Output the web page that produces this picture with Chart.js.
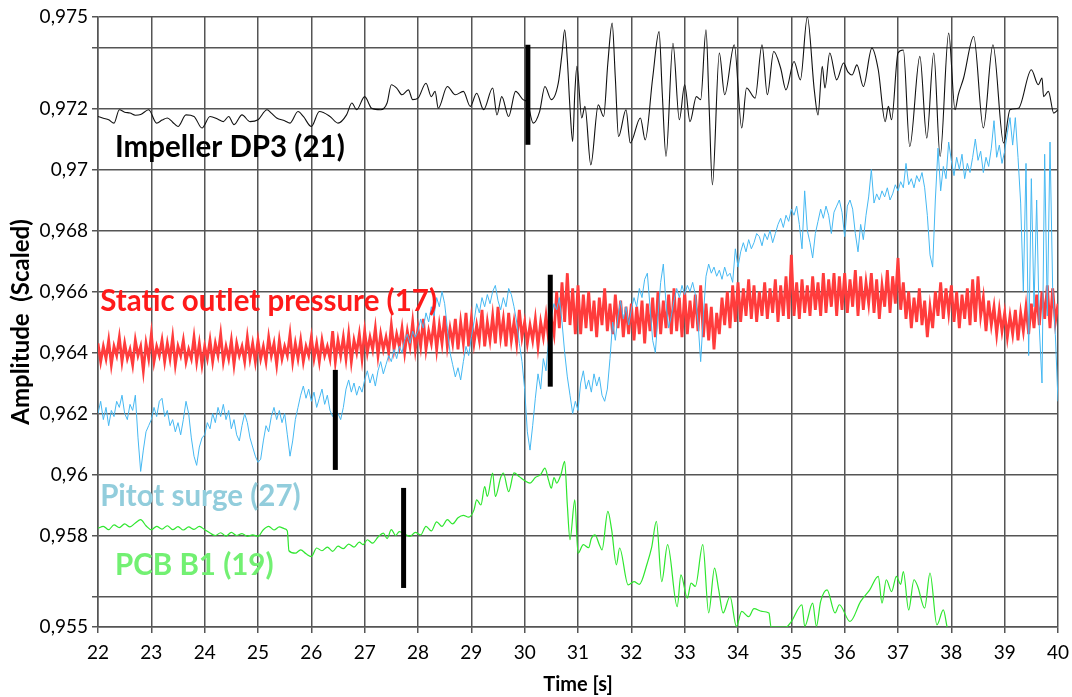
<!DOCTYPE html>
<html>
<head>
<meta charset="utf-8">
<script src="https://cdn.jsdelivr.net/npm/chart.js@4/dist/chart.umd.min.js"></script>
<style>
  html, body { margin: 0; padding: 0; background: #ffffff; }
  canvas { display: block; }
</style>
</head>
<body>
<canvas id="chart" width="1072" height="697"></canvas>
<script>
// Axis ticks
const xTicks = [22,23,24,25,26,27,28,29,30,31,32,33,34,35,36,37,38,39,40];
const yTickValues = [0.955,0.956,0.958,0.960,0.962,0.964,0.966,0.968,0.970,0.972,0.974,0.975];
const yTickLabels = ['0,955','','0,958','0,96','0,962','0,964','0,966','0,968','0,97','0,972','','0,975'];

// Impeller DP3 (21)
const impellerT = [
  22.0,22.1,22.2,22.3,22.4,22.5,22.6,22.7,22.8,22.95,
  23.1,23.2,23.3,23.4,23.5,23.65,23.8,23.95,24.1,24.25,
  24.35,24.45,24.55,24.7,24.85,25.0,25.17,25.25,25.35,25.5,
  25.6,25.75,25.85,26.0,26.15,26.35,26.5,26.66,26.76,26.85,
  27.0,27.13,27.3,27.42,27.5,27.6,27.7,27.82,27.9,28.0,
  28.15,28.25,28.32,28.38,28.55,28.7,28.85,28.98,29.1,29.23,
  29.4,29.48,29.57,29.7,29.83,29.97,30.05,30.16,30.28,30.38,
  30.5,30.63,30.7,30.75,30.8,30.85,30.9,30.94,30.98,31.07,
  31.13,31.24,31.38,31.48,31.56,31.64,31.7,31.76,31.9,31.98,
  32.17,32.26,32.4,32.52,32.58,32.65,32.78,32.9,33.0,33.1,
  33.22,33.3,33.4,33.46,33.52,33.65,33.75,33.93,34.07,34.16,
  34.32,34.45,34.55,34.67,34.8,34.9,35.05,35.17,35.3,35.43,
  35.5,35.58,35.63,35.72,35.85,35.98,36.06,36.14,36.23,36.35,
  36.51,36.63,36.76,36.82,36.88,37.0,37.1,37.22,37.41,37.54,
  37.67,37.79,37.95,38.07,38.13,38.23,38.42,38.6,38.78,38.98,
  39.1,39.26,39.5,39.63,39.7,39.73,39.82,39.92,40.0
];
const impellerV = [
  0.97174,0.97168,0.97163,0.97152,0.97196,0.97188,0.97185,0.97178,0.97180,0.97196,
  0.97152,0.97162,0.97169,0.97155,0.97141,0.97179,0.97174,0.97136,0.97174,0.97165,
  0.97157,0.97174,0.97147,0.97179,0.97157,0.97163,0.97196,0.97185,0.97169,0.97160,
  0.97152,0.97190,0.97174,0.97141,0.97190,0.97174,0.97152,0.97179,0.97218,0.97196,
  0.97239,0.97201,0.97196,0.97218,0.97278,0.97267,0.97245,0.97261,0.97229,0.97234,
  0.97283,0.97239,0.97256,0.97201,0.97272,0.97245,0.97256,0.97207,0.97250,0.97196,
  0.97267,0.97179,0.97239,0.97174,0.97256,0.97229,0.97220,0.97152,0.97190,0.97272,
  0.97229,0.97283,0.97380,0.97458,0.97360,0.97200,0.97092,0.97250,0.97338,0.97169,
  0.97207,0.97015,0.97212,0.97174,0.97350,0.97480,0.97300,0.97108,0.97196,0.97087,
  0.97169,0.97097,0.97300,0.97452,0.97250,0.97043,0.97414,0.97163,0.97278,0.97157,
  0.97239,0.97229,0.97458,0.97200,0.96950,0.97382,0.97245,0.97409,0.97136,0.97267,
  0.97234,0.97409,0.97245,0.97387,0.97332,0.97261,0.97354,0.97294,0.97500,0.97261,
  0.97179,0.97338,0.97267,0.97382,0.97294,0.97349,0.97320,0.97310,0.97343,0.97272,
  0.97398,0.97327,0.97157,0.97207,0.97163,0.97382,0.97392,0.97075,0.97371,0.97103,
  0.97382,0.97043,0.97447,0.97196,0.97245,0.97300,0.97436,0.97136,0.97409,0.97087,
  0.97196,0.97201,0.97327,0.97278,0.97300,0.97239,0.97256,0.97185,0.97196
];

// Static outlet pressure (17), sampled every 0.05 s from 22 s
const staticStart = 22, staticStep = 0.05;
const staticV = [
  0.9643,0.9637,0.9642,0.9638,0.9644,0.9636,0.9642,0.9639,0.9645,0.9637,0.9643,0.9638,0.9641,0.9636,0.9644,0.9639,0.9642,0.9634,0.9643,0.9638,
  0.9646,0.9637,0.9642,0.9639,0.9644,0.9637,0.9643,0.9638,0.9645,0.9636,0.9642,0.9639,0.9644,0.9637,0.9641,0.9638,0.9645,0.9637,0.9643,0.9636,
  0.9642,0.9638,0.9644,0.9637,0.9643,0.9639,0.9646,0.9637,0.9642,0.9638,0.9644,0.9636,0.9643,0.9639,0.9642,0.9637,0.9645,0.9638,0.9643,0.9637,
  0.9644,0.9638,0.9642,0.9637,0.9645,0.9639,0.9643,0.9636,0.9644,0.9638,0.9642,0.9639,0.9646,0.9637,0.9643,0.9638,0.9644,0.9637,0.9642,0.9639,
  0.9645,0.9638,0.9643,0.9637,0.9644,0.9639,0.9642,0.9638,0.9647,0.9637,0.9644,0.9639,0.9645,0.9638,0.9646,0.9637,0.9644,0.9640,0.9646,0.9638,
  0.9647,0.9640,0.9645,0.9641,0.9648,0.9639,0.9646,0.9641,0.9645,0.9640,0.9649,0.9641,0.9646,0.9642,0.9648,0.9640,0.9647,0.9642,0.9650,0.9641,
  0.9648,0.9642,0.9651,0.9641,0.9647,0.9643,0.9650,0.9641,0.9649,0.9643,0.9652,0.9642,0.9648,0.9643,0.9651,0.9641,0.9650,0.9643,0.9653,0.9642,
  0.9651,0.9643,0.9649,0.9644,0.9654,0.9642,0.9650,0.9644,0.9652,0.9643,0.9655,0.9645,0.9651,0.9642,0.9653,0.9644,0.9650,0.9643,0.9654,0.9645,
  0.9650,0.9643,0.9649,0.9644,0.9651,0.9642,0.9650,0.9645,0.9652,0.9644,0.9651,0.9646,0.9660,0.9648,0.9663,0.9650,0.9666,0.9649,0.9661,0.9646,
  0.9662,0.9646,0.9659,0.9648,0.9660,0.9647,0.9657,0.9645,0.9658,0.9649,0.9661,0.9647,0.9656,0.9646,0.9659,0.9648,0.9657,0.9645,0.9655,0.9646,
  0.9656,0.9644,0.9655,0.9646,0.9657,0.9643,0.9656,0.9647,0.9658,0.9645,0.9660,0.9646,0.9657,0.9648,0.9659,0.9646,0.9661,0.9647,0.9658,0.9645,
  0.9660,0.9646,0.9657,0.9648,0.9659,0.9647,0.9662,0.9645,0.9656,0.9644,0.9655,0.9641,0.9653,0.9646,0.9658,0.9649,0.9660,0.9648,0.9662,0.9650,
  0.9663,0.9650,0.9661,0.9652,0.9664,0.9651,0.9662,0.9650,0.9660,0.9652,0.9663,0.9651,0.9661,0.9653,0.9664,0.9650,0.9662,0.9652,0.9665,0.9651,
  0.9672,0.9652,0.9663,0.9651,0.9664,0.9653,0.9662,0.9652,0.9665,0.9654,0.9663,0.9652,0.9666,0.9653,0.9664,0.9655,0.9666,0.9652,0.9665,0.9654,
  0.9666,0.9653,0.9664,0.9655,0.9667,0.9652,0.9665,0.9654,0.9663,0.9656,0.9666,0.9653,0.9664,0.9651,0.9662,0.9655,0.9667,0.9653,0.9665,0.9656,
  0.9671,0.9654,0.9663,0.9651,0.9660,0.9648,0.9658,0.9650,0.9661,0.9649,0.9657,0.9645,0.9655,0.9648,0.9660,0.9652,0.9663,0.9651,0.9661,0.9653,
  0.9662,0.9650,0.9660,0.9648,0.9659,0.9651,0.9661,0.9649,0.9664,0.9650,0.9665,0.9652,0.9658,0.9647,0.9657,0.9649,0.9655,0.9646,0.9654,0.9647,
  0.9653,0.9645,0.9652,0.9646,0.9654,0.9644,0.9653,0.9647,0.9655,0.9646,0.9656,0.9648,0.9659,0.9649,0.9660,0.9651,0.9662,0.9648,0.9661,0.9650,
  0.9656
];

// Pitot surge (27), sampled every 0.05 s from 22 s
const pitotStart = 22, pitotStep = 0.05;
const pitotV = [
  0.9620,0.9624,0.9618,0.9622,0.9616,0.9621,0.9619,0.9624,0.9622,0.9626,0.9620,0.9618,0.9623,0.9621,0.9626,0.9612,0.9601,0.9608,0.9614,0.9616,
  0.9618,0.9622,0.9619,0.9624,0.9625,0.9619,0.9621,0.9616,0.9618,0.9614,0.9617,0.9613,0.9618,0.9624,0.9620,0.9612,0.9606,0.9603,0.9609,0.9612,
  0.9613,0.9617,0.9615,0.9620,0.9617,0.9622,0.9619,0.9623,0.9618,0.9621,0.9615,0.9618,0.9613,0.9611,0.9616,0.9620,0.9617,0.9612,0.9609,0.9606,
  0.9604,0.9605,0.9611,0.9616,0.9614,0.9619,0.9622,0.9618,0.9621,0.9617,0.9620,0.9613,0.9606,0.9611,0.9618,0.9622,0.9626,0.9629,0.9625,0.9628,
  0.9624,0.9627,0.9622,0.9625,0.9628,0.9623,0.9626,0.9621,0.9619,0.9622,0.9620,0.9618,0.9622,0.9628,0.9631,0.9627,0.9630,0.9626,0.9629,0.9627,
  0.9631,0.9634,0.9630,0.9633,0.9629,0.9634,0.9637,0.9633,0.9636,0.9639,0.9637,0.9641,0.9638,0.9642,0.9640,0.9644,0.9646,0.9643,0.9647,0.9645,
  0.9647,0.9651,0.9648,0.9653,0.9650,0.9655,0.9652,0.9658,0.9655,0.9660,0.9656,0.9648,0.9640,0.9636,0.9632,0.9635,0.9631,0.9637,0.9642,0.9639,
  0.9645,0.9650,0.9656,0.9653,0.9658,0.9655,0.9659,0.9656,0.9660,0.9662,0.9657,0.9654,0.9658,0.9655,0.9661,0.9659,0.9655,0.9650,0.9643,0.9637,
  0.9628,0.9614,0.9608,0.9616,0.9625,0.9633,0.9628,0.9638,0.9634,0.9645,0.9652,0.9656,0.9654,0.9658,0.9650,0.9640,0.9632,0.9626,0.9620,0.9624,
  0.9621,0.9630,0.9634,0.9628,0.9631,0.9627,0.9633,0.9629,0.9632,0.9626,0.9624,0.9628,0.9638,0.9650,0.9644,0.9652,0.9657,0.9651,0.9655,0.9649,
  0.9654,0.9658,0.9655,0.9661,0.9658,0.9664,0.9666,0.9655,0.9644,0.9640,0.9652,0.9663,0.9669,0.9656,0.9648,0.9652,0.9657,0.9661,0.9658,0.9662,
  0.9659,0.9662,0.9660,0.9663,0.9659,0.9650,0.9637,0.9652,0.9665,0.9669,0.9666,0.9668,0.9665,0.9667,0.9664,0.9668,0.9665,0.9666,0.9663,0.9674,
  0.9668,0.9673,0.9676,0.9673,0.9677,0.9674,0.9676,0.9679,0.9678,0.9675,0.9679,0.9677,0.9680,0.9676,0.9679,0.9682,0.9684,0.9681,0.9685,0.9683,
  0.9687,0.9685,0.9688,0.9682,0.9674,0.9693,0.9680,0.9676,0.9671,0.9679,0.9683,0.9687,0.9684,0.9688,0.9685,0.9679,0.9686,0.9688,0.9690,0.9686,
  0.9678,0.9688,0.9690,0.9687,0.9679,0.9673,0.9682,0.9677,0.9685,0.9691,0.9700,0.9689,0.9692,0.9690,0.9693,0.9691,0.9694,0.9690,0.9692,0.9695,
  0.9693,0.9696,0.9694,0.9702,0.9695,0.9697,0.9694,0.9698,0.9696,0.9699,0.9694,0.9685,0.9672,0.9668,0.9690,0.9707,0.9693,0.9701,0.9697,0.9709,
  0.9703,0.9698,0.9704,0.9700,0.9705,0.9697,0.9702,0.9699,0.9704,0.9710,0.9703,0.9706,0.9699,0.9704,0.9701,0.9707,0.9716,0.9704,0.9708,0.9702,
  0.9706,0.9712,0.9717,0.9708,0.9717,0.9704,0.9689,0.9660,0.9702,0.9639,0.9697,0.9655,0.9690,0.9648,0.9630,0.9705,0.9652,0.9709,0.9661,0.9646,
  0.9624
];

// PCB B1 (19)
const pcbT = [
  22.0,22.1,22.2,22.3,22.4,22.5,22.6,22.7,22.8,22.9,
  23.0,23.1,23.2,23.3,23.4,23.5,23.6,23.7,23.8,23.9,
  24.0,24.1,24.2,24.3,24.4,24.5,24.6,24.7,24.8,24.9,
  25.0,25.1,25.2,25.3,25.4,25.5,25.55,25.58,25.7,25.8,
  25.9,26.0,26.1,26.2,26.3,26.4,26.5,26.6,26.7,26.8,
  26.9,26.97,27.05,27.15,27.25,27.35,27.42,27.5,27.58,27.65,
  27.75,27.85,27.95,28.05,28.15,28.25,28.35,28.45,28.55,28.65,
  28.75,28.85,28.95,29.05,29.1,29.18,29.25,29.3,29.4,29.45,
  29.55,29.6,29.7,29.8,29.9,30.0,30.1,30.2,30.3,30.38,
  30.45,30.5,30.55,30.6,30.68,30.75,30.8,30.85,30.94,31.0,
  31.1,31.2,31.25,31.32,31.4,31.45,31.56,31.63,31.72,31.78,
  31.94,32.05,32.15,32.3,32.38,32.47,32.57,32.68,32.86,32.93,
  33.05,33.12,33.2,33.34,33.45,33.56,33.64,33.72,33.85,33.97,
  34.07,34.2,34.3,34.45,34.58,34.62,34.9,35.0,35.2,35.25,
  35.4,35.47,35.55,35.67,35.82,35.9,36.1,36.3,36.47,36.63,
  36.7,36.78,36.88,36.97,37.05,37.1,37.2,37.3,37.37,37.5,
  37.6,37.73,37.85,37.92
];
const pcbV = [
  0.95824,0.95830,0.95819,0.95835,0.95826,0.95838,0.95828,0.95841,0.95852,0.95832,
  0.95819,0.95830,0.95821,0.95832,0.95819,0.95829,0.95818,0.95828,0.95820,0.95830,
  0.95819,0.95808,0.95800,0.95809,0.95798,0.95810,0.95800,0.95806,0.95797,0.95802,
  0.95797,0.95819,0.95830,0.95818,0.95828,0.95822,0.95815,0.95750,0.95742,0.95753,
  0.95740,0.95731,0.95759,0.95750,0.95762,0.95748,0.95765,0.95757,0.95772,0.95762,
  0.95778,0.95770,0.95786,0.95775,0.95795,0.95808,0.95790,0.95819,0.95800,0.95813,
  0.95805,0.95797,0.95810,0.95802,0.95830,0.95815,0.95845,0.95830,0.95852,0.95838,
  0.95858,0.95866,0.95860,0.95884,0.95917,0.95900,0.95960,0.95928,0.96005,0.95928,
  0.95990,0.96005,0.95944,0.96005,0.95993,0.95980,0.95972,0.95990,0.96000,0.96021,
  0.95980,0.95955,0.95990,0.95972,0.96000,0.96043,0.95900,0.95786,0.95917,0.95742,
  0.95770,0.95760,0.95790,0.95802,0.95770,0.95753,0.95879,0.95820,0.95704,0.95759,
  0.95638,0.95649,0.95640,0.95710,0.95760,0.95846,0.95649,0.95770,0.95567,0.95671,
  0.95595,0.95644,0.95633,0.95770,0.95546,0.95693,0.95620,0.95546,0.95600,0.95502,
  0.95551,0.95534,0.95560,0.95551,0.95546,0.95500,0.95500,0.95518,0.95573,0.95502,
  0.95578,0.95502,0.95584,0.95622,0.95546,0.95573,0.95518,0.95584,0.95622,0.95666,
  0.95578,0.95655,0.95616,0.95666,0.95640,0.95682,0.95556,0.95655,0.95633,0.95562,
  0.95677,0.95507,0.95556,0.95500
];

// Event markers (vertical bars)
const markerT = [26.45, 27.73, 30.06, 30.48];
const markerLow = [0.96015, 0.95628, 0.97081, 0.96288];
const markerHigh = [0.96343, 0.95956, 0.97409, 0.96655];

// Signal labels placed in data coordinates
const noteTexts = ['Impeller DP3 (21)', 'Static outlet pressure (17)', 'Pitot surge (27)', 'PCB B1 (19)'];
const noteT = [22.32, 22.04, 22.04, 22.32];
const noteV = [0.97071, 0.96566, 0.95927, 0.95701];
const noteColors = ['#000000', '#ff1a1a', '#92cddc', '#72f072'];

const FONT = 'Lato';

function pairs(ts, vs) {
  return ts.map((t, i) => ({ x: t, y: vs[i] }));
}
function sampleTimes(start, step, n) {
  return Array.from({ length: n }, (_, i) => Math.round((start + i * step) * 1000) / 1000);
}

const datasets = [];
markerT.forEach((t, i) => {
  datasets.push({
    data: [{ x: t, y: markerLow[i] }, { x: t, y: markerHigh[i] }],
    borderColor: '#000000', borderWidth: 5, borderCapStyle: 'butt', order: 0
  });
});
datasets.push({
  label: 'Pitot surge (27)',
  data: pairs(sampleTimes(pitotStart, pitotStep, pitotV.length), pitotV),
  borderColor: '#45b8f2', borderWidth: 1, order: 1
});
datasets.push({
  label: 'Static outlet pressure (17)',
  data: pairs(sampleTimes(staticStart, staticStep, staticV.length), staticV),
  borderColor: '#ff3c3c', borderWidth: 2.8, order: 2
});
datasets.push({
  label: 'PCB B1 (19)',
  data: pairs(pcbT, pcbV),
  borderColor: '#2ee62e', borderWidth: 1.2, order: 3,
  cubicInterpolationMode: 'monotone'
});
datasets.push({
  label: 'Impeller DP3 (21)',
  data: pairs(impellerT, impellerV),
  borderColor: '#111111', borderWidth: 1.1, order: 4,
  cubicInterpolationMode: 'monotone'
});

const notesPlugin = {
  id: 'signalNotes',
  afterDatasetsDraw(chart) {
    const { ctx, scales: { x, y } } = chart;
    ctx.save();
    ctx.font = 'bold 29.5px ' + FONT;
    ctx.textBaseline = 'middle';
    ctx.textAlign = 'left';
    noteTexts.forEach((txt, i) => {
      ctx.fillStyle = noteColors[i];
      ctx.fillText(txt, x.getPixelForValue(noteT[i]), y.getPixelForValue(noteV[i]));
    });
    ctx.restore();
  }
};

const gridColor = '#555555';

function draw() {
  new Chart(document.getElementById('chart'), {
    type: 'line',
    data: { datasets },
    plugins: [notesPlugin],
    options: {
      responsive: false,
      animation: false,
      layout: { padding: { left: 0, right: 14, top: 17, bottom: 0 } },
      datasets: { line: { pointRadius: 0, tension: 0, clip: 0, fill: false } },
      plugins: { legend: { display: false }, tooltip: { enabled: false } },
      scales: {
        x: {
          type: 'linear', min: 22, max: 40,
          afterBuildTicks: s => { s.ticks = xTicks.map(v => ({ value: v })); },
          afterFit: s => { s.height = 70; },
          grid: { color: gridColor, lineWidth: 1.5, tickLength: 6 },
          border: { color: gridColor, width: 1.5 },
          ticks: { color: '#000', font: { family: FONT, size: 19, lineHeight: 1.9 }, padding: 2, autoSkip: false, maxRotation: 0 },
          title: { display: true, text: 'Time [s]', color: '#000', font: { family: FONT, size: 20, weight: 'bold' }, padding: { top: 0, bottom: 0 } }
        },
        y: {
          type: 'linear', min: 0.955, max: 0.975,
          afterBuildTicks: s => { s.ticks = yTickValues.map(v => ({ value: v })); },
          afterFit: s => { s.width = 98; },
          grid: { color: gridColor, lineWidth: 1.5, tickLength: 6 },
          border: { color: gridColor, width: 1.5 },
          ticks: { color: '#000', font: { family: FONT, size: 19 }, padding: 4, autoSkip: false,
                   callback: (v, i) => yTickLabels[i] },
          title: { display: true, text: 'Amplitude  (Scaled)', color: '#000', font: { family: FONT, size: 24, weight: 'bold' }, padding: { top: 7, bottom: 0 } }
        }
      }
    }
  });
}

Promise.all([
  document.fonts.load('19px ' + FONT),
  document.fonts.load('bold 29.5px ' + FONT)
]).then(draw, draw);
</script>
</body>
</html>
